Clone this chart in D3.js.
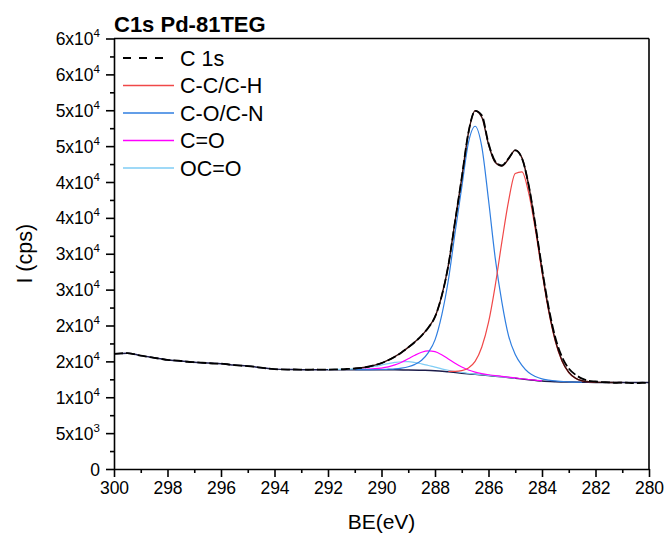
<!DOCTYPE html>
<html><head><meta charset="utf-8">
<script src="https://cdn.jsdelivr.net/npm/d3@7"></script>
<style>
body{margin:0;background:#fff}
text{font-family:Arial,"Liberation Sans",sans-serif;fill:#000}
</style>
</head><body>
<svg id="c" width="665" height="537"></svg>
<script>
// ---------- data ----------
const dataE = [300,299.75,299.5,299.25,299,298.75,298.5,298.25,298,297.75,297.5,297.25,297,296.75,296.5,296.25,296,295.75,295.5,295.25,295,294.75,294.5,294.25,294,293.75,293.5,293.25,293,292.75,292.5,292.25,292,291.75,291.5,291.25,291,290.75,290.5,290.25,290,289.75,289.5,289.25,289,288.75,288.5,288.25,288,287.75,287.5,287.25,287,286.75,286.5,286.25,286,285.75,285.5,285.25,285,284.75,284.5,284.25,284,283.75,283.5,283.25,283,282.75,282.5,282.25,282,281.75,281.5,281.25,281,280.75,280.5,280.25,280];
const dataI = [16050,16120,16150,16000,15800,15650,15500,15350,15200,15130,15050,14950,14880,14820,14760,14700,14680,14600,14480,14400,14350,14250,14120,14000,13920,13880,13860,13870,13850,13830,13870,13850,13860,13880,13900,13950,14010,14100,14250,14480,14750,15150,15650,16250,16950,17700,18600,19700,21200,24100,28400,34500,40600,46900,49900,49300,45400,42900,42300,43300,44400,43300,39600,34100,28000,22500,18300,15600,14000,13150,12600,12300,12200,12100,12080,12000,12050,12000,11950,12020,12000];

const bgE = [300,299.5,299,298.5,298,297.5,297,296.5,296,295.5,295,294.5,294,293.5,293,292.5,292,291.5,291,290.5,290,289.5,289,288.5,288,287.5,287,286.5,286,285.5,285,284.5,284,283.5,283,282.5,282,281.5,281,280.5,280];
const bgI = [16050,16140,15800,15500,15200,15050,14880,14760,14680,14480,14350,14120,13920,13860,13850,13845,13840,13837,13835,13832,13830,13822,13800,13760,13700,13540,13360,13190,13020,12850,12650,12440,12260,12170,12120,12090,12070,12060,12050,12045,12040];

const envE = [291,290.75,290.5,290.25,290,289.75,289.5,289.25,289,288.75,288.5,288.25,288,287.75,287.5,287.25,287,286.75,286.5,286.25,286,285.75,285.5,285.25,285,284.75,284.5,284.25,284,283.75,283.5,283.25,283,282.75,282.5,282.25,282,281.5,281];
const envI = [14015,14105,14244,14468,14769,15173,15665,16270,16958,17719,18588,19694,21211,24129,28430,34532,40551,46862,49920,49020,45258,42740,42228,43215,44443,43362,39552,33967,27743,22163,17895,15096,13488,12677,12304,12172,12110,12065,12050];

const ccE = [287.5,287.25,287,286.75,286.5,286.25,286,285.75,285.5,285.25,285,284.75,284.5,284.25,284,283.75,283.5,283.25,283,282.75,282.5,282.25,282];
const ccI = [13600,13600,13710,14075,14990,17005,20420,25535,31650,37350,41190,41415,38510,33380,27410,21955,17770,15015,13440,12645,12290,12160,12100];

const coE = [291,290.5,290,289.75,289.5,289.25,289,288.75,288.5,288.25,288,287.75,287.5,287.25,287,286.75,286.5,286.25,286,285.75,285.5,285.25,285,284.75,284.5,284.25,284,283.75,283.5,283,282.5];
const coI = [13845,13852,13870,13906,13950,14060,14250,14585,15160,16230,18000,21420,26340,32950,39260,45475,47770,44905,37520,29435,23250,18550,15950,14445,13440,12900,12560,12395,12270,12150,12095];

const c_oE = [291,290.75,290.5,290.25,290,289.75,289.5,289.25,289,288.75,288.5,288.25,288,287.75,287.5,287.25,287,286.75,286.5,286.25,286,285.5,285,284.5,284];
const c_oI = [13889,13902,13927,13977,14072,14237,14504,14880,15356,15860,16274,16467,16355,15924,15347,14743,14214,13802,13502,13290,13135,12910,12690,12471,12284];

const ocoE = [292,291.5,291,290.75,290.5,290.25,290,289.75,289.5,289.25,289,288.75,288.5,288.25,288,287.75,287.5,287.25,287,286.5,286,285];
const ocoI = [13867,13888,13961,14037,14149,14302,14487,14682,14853,14951,14952,14844,14654,14427,14206,13965,13763,13589,13447,13228,13043,12663];

const xMajorTicks = [300,298,296,294,292,290,288,286,284,282,280];
const xMinorTicks = [299,297,295,293,291,289,287,285,283,281];
const yMajorTicks = [0,5000,10000,15000,20000,25000,30000,35000,40000,45000,50000,55000,60000];
const yMinorTicks = [2500,7500,12500,17500,22500,27500,32500,37500,42500,47500,52500,57500];
const yTickLabels = ["0","5x10^3","1x10^4","2x10^4","2x10^4","3x10^4","3x10^4","4x10^4","4x10^4","5x10^4","5x10^4","6x10^4","6x10^4"];

const legendNames = ["C 1s","C-C/C-H","C-O/C-N","C=O","OC=O"];
const legendColors = ["#000000","#f04848","#2f7ee0","#ff00ff","#7fcdf5"];

// ---------- layout ----------
const L = 114, R = 649, T = 38.5, B = 469;
const svg = d3.select("#c");
const x = d3.scaleLinear().domain([300,280]).range([L,R]);
const y = d3.scaleLinear().domain([0,60000]).range([B,T]);

const line = (E,I) => d3.line().x((d,i)=>x(E[i])).y((d,i)=>y(I[i])).curve(d3.curveMonotoneX)(E);

const g = svg.append("g");
g.append("path").attr("d", line(bgE,bgI)).attr("fill","none").attr("stroke","#1c1c4a").attr("stroke-width",1.5);
g.append("path").attr("d", line(ocoE,ocoI)).attr("fill","none").attr("stroke",legendColors[4]).attr("stroke-width",1.2);
g.append("path").attr("d", line(c_oE,c_oI)).attr("fill","none").attr("stroke",legendColors[3]).attr("stroke-width",1.2);
g.append("path").attr("d", line(coE,coI)).attr("fill","none").attr("stroke",legendColors[2]).attr("stroke-width",1.2);
g.append("path").attr("d", line(ccE,ccI)).attr("fill","none").attr("stroke",legendColors[1]).attr("stroke-width",1.2);
g.append("path").attr("d", line(envE,envI)).attr("fill","none").attr("stroke","#3a0c0c").attr("stroke-width",1.4);
g.append("path").attr("d", line(dataE,dataI)).attr("fill","none").attr("stroke","#000").attr("stroke-width",1.8).attr("stroke-dasharray","9,3");

// ---------- axes ----------
const xAxis = svg.append("g").attr("transform",`translate(0,${B})`)
  .call(d3.axisBottom(x).tickValues(xMajorTicks).tickSize(8).tickSizeOuter(0).tickPadding(5).tickFormat(d=>String(d)));
svg.append("g").attr("transform",`translate(0,${B})`)
  .call(d3.axisBottom(x).tickValues(xMinorTicks).tickSize(4).tickSizeOuter(0).tickFormat(""))
  .select(".domain").remove();
svg.append("g").attr("transform",`translate(${L},0)`)
  .call(d3.axisLeft(y).tickValues(yMajorTicks).tickSize(8).tickSizeOuter(0).tickFormat(""));
svg.append("g").attr("transform",`translate(${L},0)`)
  .call(d3.axisLeft(y).tickValues(yMinorTicks).tickSize(4).tickSizeOuter(0).tickFormat(""))
  .select(".domain").remove();
svg.selectAll(".domain, .tick line").attr("stroke","#000").attr("stroke-width",1.6);
xAxis.selectAll(".tick text").attr("font-size","17.5px").attr("font-family","Arial, 'Liberation Sans', sans-serif").attr("fill","#000");

yMajorTicks.forEach((v,i)=>{
  const parts = yTickLabels[i].split("^");
  const t = svg.append("text").attr("x",100).attr("y",y(v)+6.5).attr("text-anchor","end").attr("font-size","17.5px");
  t.append("tspan").text(parts[0]);
  if(parts[1]) t.append("tspan").attr("dy",-8).attr("font-size","11.5px").text(parts[1]);
});

svg.append("line").attr("x1",L).attr("x2",R).attr("y1",T).attr("y2",T).attr("stroke","#000").attr("stroke-width",1.6);
svg.append("line").attr("x1",R).attr("x2",R).attr("y1",T).attr("y2",B).attr("stroke","#000").attr("stroke-width",1.6);

svg.append("text").attr("x",114).attr("y",32).attr("font-size","22px").attr("font-weight","bold").text("C1s Pd-81TEG");
svg.append("text").attr("x",(L+R)/2).attr("y",529).attr("text-anchor","middle").attr("font-size","21px").text("BE(eV)");
svg.append("text").attr("transform",`translate(32,${(T+B)/2}) rotate(-90)`).attr("text-anchor","middle").attr("font-size","21.5px").text("I (cps)");

const legY = [58,85.5,113,140.5,168];
legendNames.forEach((n,i)=>{
  const l = svg.append("line").attr("x1",123).attr("x2",174).attr("y1",legY[i]).attr("y2",legY[i])
    .attr("stroke",legendColors[i]).attr("stroke-width", i===0?1.8:1.3);
  if(i===0) l.attr("x2",166).attr("stroke-dasharray","8,8");
  svg.append("text").attr("x",180).attr("y",legY[i]+7.5).attr("font-size","21.5px").text(n);
});
</script>
</body></html>
